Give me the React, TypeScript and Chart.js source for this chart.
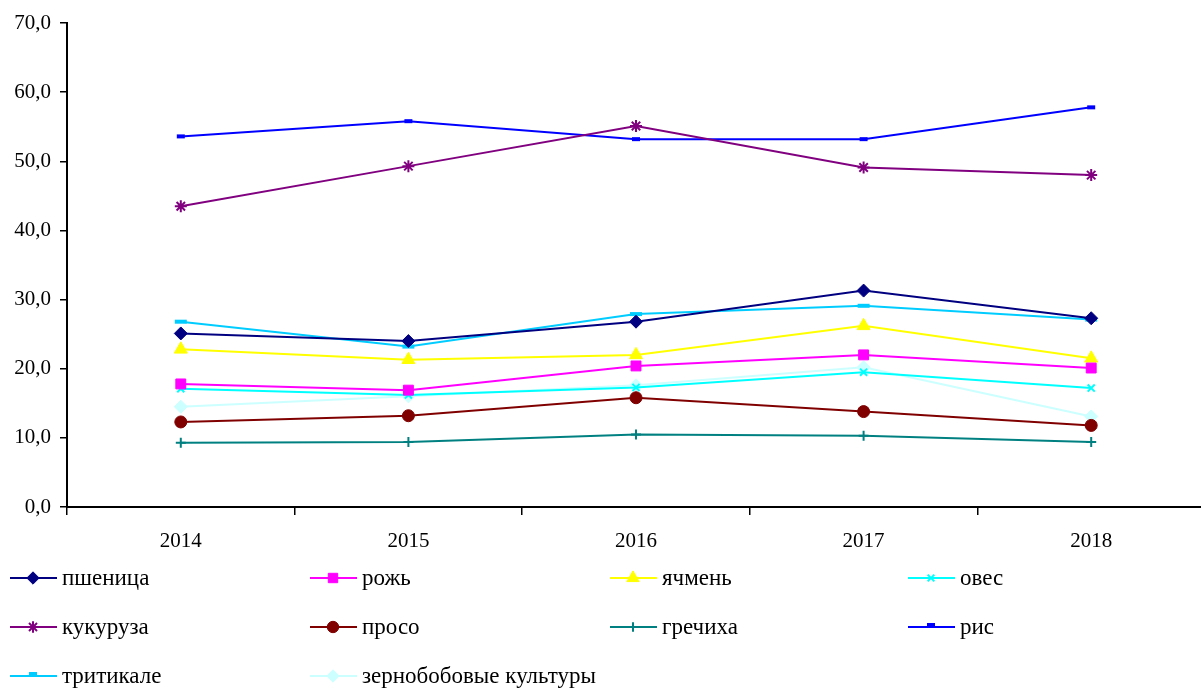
import React, { useEffect, useRef } from "react";
import { Chart, registerables } from "chart.js";
import { drawPoint } from "chart.js/helpers";

Chart.register(...registerables);

const years = ["2014", "2015", "2016", "2017", "2018"];
const yTicksMin = 0;
const yTicksMax = 70;
const yTickStep = 10;

const wheat = [25.1, 24.0, 26.8, 31.3, 27.3];
const rye = [17.8, 16.9, 20.4, 22.0, 20.1];
const barley = [22.8, 21.3, 22.0, 26.2, 21.5];
const oats = [17.1, 16.2, 17.3, 19.5, 17.2];
const corn = [43.5, 49.3, 55.1, 49.1, 48.0];
const millet = [12.3, 13.2, 15.8, 13.8, 11.8];
const buckwheat = [9.3, 9.4, 10.5, 10.3, 9.4];
const rice = [53.6, 55.8, 53.2, 53.2, 57.8];
const triticale = [26.8, 23.2, 27.9, 29.1, 27.1];
const legumes = [14.5, 16.0, 17.6, 20.2, 13.1];

const seriesNames = [
  "пшеница",
  "рожь",
  "ячмень",
  "овес",
  "кукуруза",
  "просо",
  "гречиха",
  "рис",
  "тритикале",
  "зернобобовые культуры",
];
const seriesData = [wheat, rye, barley, oats, corn, millet, buckwheat, rice, triticale, legumes];
const seriesColors = [
  "#000080",
  "#FF00FF",
  "#FFFF00",
  "#00FFFF",
  "#800080",
  "#800000",
  "#008080",
  "#0000FF",
  "#00CCFF",
  "#CCFFFF",
];
const seriesStyles = ["rectRot", "rect", "triangle", "crossRot", "star", "circle", "cross", "line", "line", "rectRot"];
const seriesRadius = [6.5, 7, 7.5, 5, 6, 6, 5, 4, 6, 6.5];
const seriesPointBorder = [1, 1, 1, 2, 2, 1, 2, 4, 4, 1];

const FONT = "'Liberation Serif', 'Times New Roman', serif";

const legendPlugin = {
  id: "gridLegend",
  afterDraw(chart: any) {
    const ctx = chart.ctx;
    const colX = [10, 310, 610, 908];
    const rowY = [578, 627, 676];
    ctx.save();
    chart.data.datasets.forEach((ds: any, i: number) => {
      const col = i % 4;
      const row = Math.floor(i / 4);
      const x = colX[col];
      const y = rowY[row];
      ctx.strokeStyle = ds.borderColor;
      ctx.fillStyle = ds.borderColor;
      ctx.lineWidth = 2;
      ctx.beginPath();
      ctx.moveTo(x, y);
      ctx.lineTo(x + 47, y);
      ctx.stroke();
      ctx.lineWidth = ds.pointBorderWidth;
      const isLine = ds.pointStyle === "line";
      drawPoint(
        ctx,
        { pointStyle: ds.pointStyle, radius: isLine ? 4 : ds.pointRadius * 0.95, rotation: 0, borderWidth: ds.pointBorderWidth },
        x + 23,
        isLine ? y - 2 : y
      );
      ctx.fillStyle = "#000";
      ctx.font = `23px ${FONT}`;
      ctx.textBaseline = "alphabetic";
      ctx.textAlign = "left";
      ctx.fillText(ds.label, x + 52, y + 7);
    });
    ctx.restore();
  },
};

export default function App() {
  const ref = useRef<HTMLCanvasElement | null>(null);
  useEffect(() => {
    if (!ref.current) return;
    const chart = new Chart(ref.current, {
      type: "line",
      data: {
        labels: years,
        datasets: seriesNames.map((name, i) => ({
          label: name,
          data: seriesData[i],
          borderColor: seriesColors[i],
          backgroundColor: seriesColors[i],
          pointBackgroundColor: seriesColors[i],
          pointBorderColor: seriesColors[i],
          pointStyle: seriesStyles[i] as any,
          pointRadius: seriesRadius[i],
          pointBorderWidth: seriesPointBorder[i],
          borderWidth: 2,
          tension: 0,
          fill: false,
        })),
      },
      options: {
        animation: false,
        responsive: true,
        maintainAspectRatio: false,
        layout: { padding: { top: 23, right: 6, bottom: 131, left: 0 } },
        plugins: {
          legend: { display: false },
          tooltip: { enabled: false },
        },
        scales: {
          x: {
            type: "category",
            offset: true,
            afterFit: (s: any) => {
              s.height = 50;
            },
            grid: {
              offset: true,
              drawOnChartArea: false,
              drawTicks: true,
              tickLength: 8,
              color: "#000",
              lineWidth: 1.5,
            },
            border: { display: true, color: "#000", width: 2 },
            ticks: {
              color: "#000",
              font: { family: FONT, size: 21 },
              padding: 14,
              maxRotation: 0,
            },
          },
          y: {
            min: yTicksMin,
            max: yTicksMax,
            afterFit: (s: any) => {
              s.width = 67;
            },
            grid: {
              drawOnChartArea: false,
              drawTicks: true,
              tickLength: 7,
              color: "#000",
              lineWidth: 1.5,
            },
            border: { display: true, color: "#000", width: 2 },
            ticks: {
              stepSize: yTickStep,
              color: "#000",
              font: { family: FONT, size: 21 },
              padding: 9,
              callback: (v: any) => Number(v).toFixed(1).replace(".", ","),
            },
          },
        },
      },
      plugins: [legendPlugin],
    });
    return () => chart.destroy();
  }, []);
  return (
    <div style={{ position: "absolute", left: 0, top: 0, width: 1201, height: 688, overflow: "hidden", background: "#fff" }}>
      <div style={{ position: "relative", width: 1215, height: 688 }}>
        <canvas ref={ref} />
      </div>
    </div>
  );
}
